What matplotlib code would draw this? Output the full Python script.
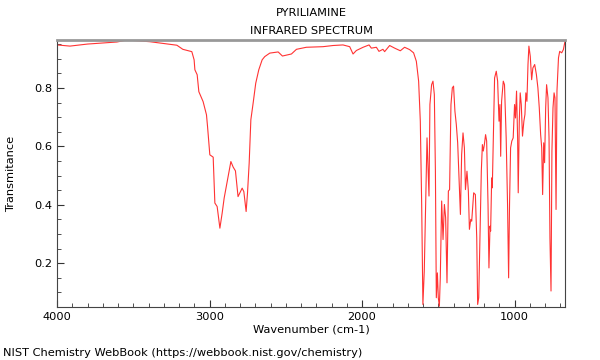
import numpy as np
import matplotlib
matplotlib.use("Agg")
import matplotlib.pyplot as plt
from matplotlib.ticker import MultipleLocator

# spectrum (wavenumber cm-1, transmittance)
wavenumber = [4000, 3915, 3800, 3607, 3542, 3391, 3214, 3175, 3116, 3101, 3096,
              3081, 3070, 3042, 3020, 3013, 2998, 2976, 2965, 2950, 2932, 2917,
              2904, 2882, 2860, 2845, 2830, 2813, 2797, 2786, 2775, 2760, 2751,
              2740, 2729, 2714, 2697, 2677, 2655, 2638, 2605, 2550, 2522, 2463,
              2430, 2365, 2256, 2190, 2125, 2081, 2059, 2037, 1993, 1954, 1939,
              1906, 1889, 1863, 1852, 1819, 1786, 1749, 1721, 1688, 1662, 1644,
              1629, 1618, 1609, 1601, 1592, 1583, 1574, 1568, 1561, 1555, 1544,
              1535, 1526, 1519, 1513, 1506, 1500, 1493, 1487, 1478, 1469, 1460,
              1452, 1443, 1434, 1426, 1417, 1408, 1400, 1391, 1382, 1373, 1364,
              1355, 1347, 1338, 1329, 1322, 1312, 1303, 1296, 1287, 1281, 1268,
              1257, 1248, 1242, 1235, 1227, 1218, 1211, 1205, 1198, 1190, 1183,
              1174, 1168, 1161, 1157, 1150, 1146, 1139, 1131, 1120, 1111, 1102,
              1096, 1091, 1085, 1074, 1066, 1055, 1046, 1039, 1033, 1026, 1018,
              1009, 1000, 994, 987, 980, 976, 969, 963, 956, 948, 939, 932, 926,
              919, 912, 906, 897, 888, 880, 868, 857, 847, 838, 829, 822, 816,
              809, 803, 796, 790, 781, 774, 768, 761, 755, 748, 741, 735, 728,
              722, 712, 704, 691, 680, 669]
transmittance = [0.947, 0.943, 0.950, 0.957, 0.964, 0.958, 0.946, 0.932, 0.924,
                 0.896, 0.862, 0.845, 0.787, 0.753, 0.708, 0.668, 0.571, 0.563,
                 0.406, 0.394, 0.320, 0.372, 0.423, 0.485, 0.548, 0.529, 0.516,
                 0.428, 0.445, 0.457, 0.445, 0.377, 0.440, 0.543, 0.691, 0.748,
                 0.816, 0.862, 0.896, 0.907, 0.919, 0.923, 0.909, 0.916, 0.932,
                 0.939, 0.941, 0.945, 0.947, 0.941, 0.916, 0.928, 0.939, 0.947,
                 0.936, 0.939, 0.925, 0.932, 0.924, 0.945, 0.936, 0.927, 0.939,
                 0.931, 0.920, 0.891, 0.823, 0.686, 0.401, 0.059, 0.173, 0.401,
                 0.629, 0.538, 0.430, 0.743, 0.811, 0.823, 0.777, 0.515, 0.082,
                 0.167, 0.082, 0.053, 0.150, 0.413, 0.281, 0.401, 0.356, 0.133,
                 0.447, 0.452, 0.743, 0.800, 0.806, 0.720, 0.675, 0.612, 0.492,
                 0.367, 0.572, 0.646, 0.595, 0.452, 0.515, 0.447, 0.316, 0.350,
                 0.344, 0.441, 0.435, 0.287, 0.059, 0.082, 0.287, 0.515, 0.606,
                 0.584, 0.606, 0.640, 0.618, 0.401, 0.184, 0.327, 0.310, 0.492,
                 0.458, 0.629, 0.834, 0.857, 0.823, 0.686, 0.743, 0.566, 0.754,
                 0.823, 0.811, 0.629, 0.401, 0.150, 0.401, 0.595, 0.618, 0.629,
                 0.743, 0.697, 0.789, 0.629, 0.441, 0.686, 0.783, 0.743, 0.635,
                 0.686, 0.709, 0.783, 0.754, 0.880, 0.943, 0.908, 0.828, 0.868,
                 0.880, 0.846, 0.800, 0.732, 0.640, 0.595, 0.435, 0.612, 0.544,
                 0.732, 0.811, 0.766, 0.629, 0.287, 0.105, 0.584, 0.732, 0.783,
                 0.766, 0.384, 0.789, 0.903, 0.925, 0.920, 0.931, 0.960]

fs = 8.2

fig = plt.figure(figsize=(6, 3.6), dpi=100)
ax = fig.add_axes([0.095, 0.147, 0.847, 0.742])

ax.plot(wavenumber, transmittance, color="#ff3333", lw=0.8)

ax.set_xlim(4000, 668)
ax.set_ylim(0.05, 0.964)
ax.xaxis.set_major_locator(MultipleLocator(1000))
ax.xaxis.set_minor_locator(MultipleLocator(100))
ax.yaxis.set_major_locator(MultipleLocator(0.2))
ax.yaxis.set_minor_locator(MultipleLocator(0.05))
ax.tick_params(which="both", direction="in", labelsize=fs, colors="#333333",
               labelcolor="black")
ax.tick_params(which="major", length=5)
ax.tick_params(which="minor", length=3)
ax.set_yticks([0.2, 0.4, 0.6, 0.8])

ax.spines["top"].set_color("#999999")
ax.spines["top"].set_linewidth(2)
for s in ["left", "bottom", "right"]:
    ax.spines[s].set_color("#444444")

ax.set_xlabel("Wavenumber (cm-1)", fontsize=fs)
ax.set_ylabel("Transmitance", fontsize=fs)
ax.xaxis.set_label_coords(0.5, -0.067)
ax.yaxis.set_label_coords(-0.081, 0.5)

cx = 0.095 + 0.847 / 2
fig.text(cx, 0.963, "PYRILIAMINE", ha="center", va="center", fontsize=fs)
fig.text(cx, 0.915, "INFRARED SPECTRUM", ha="center", va="center", fontsize=fs)
fig.text(0.005, 0.02, "NIST Chemistry WebBook (https://webbook.nist.gov/chemistry)",
         ha="left", va="center", fontsize=fs)

fig.savefig("out.png", dpi=100)
